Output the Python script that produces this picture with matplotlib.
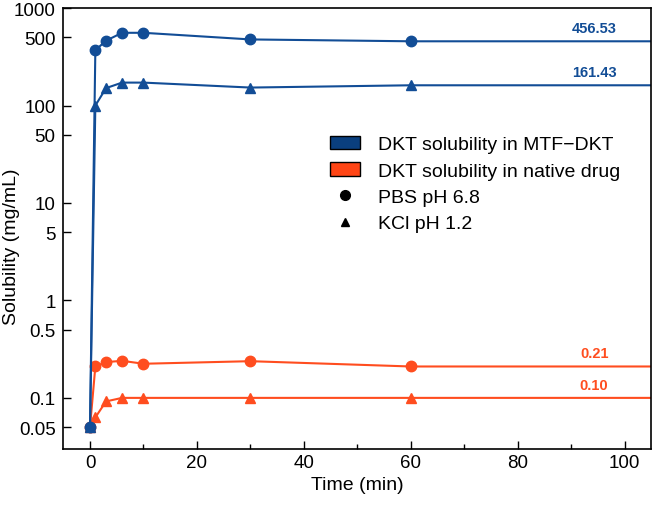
import matplotlib.pyplot as plt
from matplotlib.patches import Patch
from matplotlib.lines import Line2D

plt.rcParams['font.family'] = ['Liberation Sans', 'DejaVu Sans']

# time points (min); last point only extends the line past the axis edge
time = [0, 1, 3, 6, 10, 30, 60, 120]
mtf_pbs = [0.05, 370, 463, 558, 558, 477, 456.53, 456.53]
mtf_kcl = [0.05, 100, 151, 172, 172, 153, 161.43, 161.43]
native_pbs = [0.05, 0.21, 0.233, 0.24, 0.224, 0.238, 0.21, 0.21]
native_kcl = [0.05, 0.063, 0.092, 0.10, 0.10, 0.10, 0.10, 0.10]

final_labels = ['456.53', '161.43', '0.21', '0.10']
final_values = [456.53, 161.43, 0.21, 0.10]

yticks = [0.05, 0.1, 0.5, 1, 5, 10, 50, 100, 500, 1000]
ytick_labels = ['0.05', '0.1', '0.5', '1', '5', '10', '50', '100', '500', '1000']

blue = '#124d96'
orange = '#ff4d1f'

fig = plt.figure(figsize=(6.66, 5.06), dpi=100)
ax = fig.add_axes([0.095, 0.111, 0.883, 0.871])

mk = list(range(7))
ax.plot(time, native_pbs, color=orange, marker='o', ms=7.5, lw=1.5, markevery=mk)
ax.plot(time, native_kcl, color=orange, marker='^', ms=6.5, lw=1.5, markevery=mk)
ax.plot(time, mtf_pbs, color=blue, marker='o', ms=7.5, lw=1.5, markevery=mk)
ax.plot(time, mtf_kcl, color=blue, marker='^', ms=6.5, lw=1.5, markevery=mk)

# value labels at the right end
colors = [blue, blue, orange, orange]
for lab, v, c in zip(final_labels, final_values, colors):
    ax.annotate(lab, (94.3, v), xytext=(0, 9.5), textcoords='offset points',
                color=c, fontsize=10.5, fontweight='bold', ha='center', va='center')

ax.set_yscale('log')
ax.set_xlim(-5, 105)
ax.set_ylim(0.03, 1000)
ax.set_yticks(yticks)
ax.set_yticklabels(ytick_labels)
ax.minorticks_off()
ax.set_xticks([0, 20, 40, 60, 80, 100])
ax.set_xticks([10, 30, 50, 70, 90], minor=True)
ax.tick_params(axis='both', which='major', direction='in', length=6, labelsize=13.5, width=1)
ax.tick_params(axis='y', pad=5.5)
ax.tick_params(axis='x', which='minor', direction='in', length=3.5, width=1)
for s in ax.spines.values():
    s.set_linewidth(1.2)

ax.set_xlabel('Time (min)', fontsize=14)
ax.set_ylabel('Solubility (mg/mL)', fontsize=14)
ax.yaxis.set_label_coords(-0.073, 0.46)

handles = [
    Patch(facecolor='#0a3f7e', edgecolor='black', label='DKT solubility in MTF\u2212DKT'),
    Patch(facecolor='#ff4515', edgecolor='black', label='DKT solubility in native drug'),
    Line2D([], [], color='black', marker='o', ls='none', ms=7, label='PBS pH 6.8'),
    Line2D([], [], color='black', marker='^', ls='none', ms=6, label='KCl pH 1.2'),
]
ax.legend(handles=handles, loc='upper left', bbox_to_anchor=(0.423, 0.75),
          frameon=False, fontsize=14, handlelength=1.55, handletextpad=0.93,
          labelspacing=0.45, borderpad=0.4)

fig.savefig('out.png', dpi=100)
